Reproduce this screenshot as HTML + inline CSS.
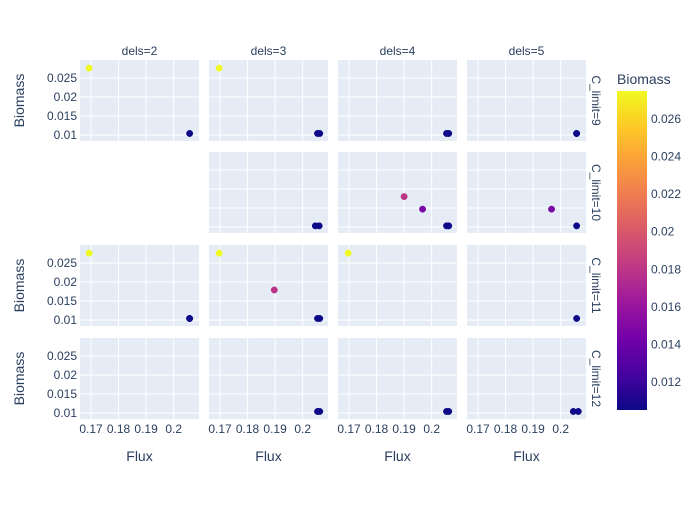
<!DOCTYPE html>
<html><head><meta charset="utf-8"><style>
body{margin:0;background:#fff;font-family:"Liberation Sans",sans-serif}
</style></head><body>
<svg id="c" width="700" height="500" xmlns="http://www.w3.org/2000/svg"></svg>
<script>
const colLabels=["dels=2","dels=3","dels=4","dels=5"];
const rowLabels=["C_limit=9","C_limit=10","C_limit=11","C_limit=12"];
const xTicks=[0.17,0.18,0.19,0.2];
const yTicks=[0.01,0.015,0.02,0.025];
const cbTicks=[0.012,0.014,0.016,0.018,0.02,0.022,0.024,0.026];
// panel data: [row, col, flux, biomass]
const ptRow=[0,0,0,0,0,0,0,0,0, 1,1,1,1,1,1,1,1, 2,2,2,2,2,2,2,2,2, 3,3,3,3,3,3,3];
const ptCol=[0,0,1,1,1,2,2,3,3, 1,1,2,2,2,2,3,3, 0,0,1,1,1,1,2,3, 0,1,1,2,2,3,3];
const ptFlux=[0.1693,0.2058,0.1697,0.2054,0.2062,0.2054,0.2062,0.2058,0.2058, 0.2046,0.2060,0.19,0.1967,0.2054,0.2062,0.1967,0.2058, 0.1693,0.2058,0.1697,0.1897,0.2054,0.2062,0.1697,0.2058, 0.2058,0.2054,0.2062,0.2054,0.2062,0.2046,0.2064];
const ptBio=[0.0276,0.0104,0.0276,0.0104,0.0104,0.0104,0.0104,0.0104,0.0104, 0.0103,0.0103,0.0180,0.0147,0.0103,0.0103,0.0147,0.0103, 0.0276,0.0104,0.0276,0.0179,0.0104,0.0104,0.0276,0.0104, 0.0104,0.0104,0.0104,0.0104,0.0104,0.0104,0.0104];
const colX=[80,209,338,467], pw=119, rowY=[60,152,245,338], ph=81;
const xMin=0.166,xMax=0.2092,yMin=0.00842,yMax=0.02974,cMin=0.0105,cMax=0.0275;
const svg=document.getElementById('c');const NS="http://www.w3.org/2000/svg";
function mk(t,a,p){const e=document.createElementNS(NS,t);for(const k in a)e.setAttribute(k,a[k]);(p||svg).appendChild(e);return e;}
const sx=(c,v)=>colX[c]+(v-xMin)/(xMax-xMin)*pw;
const sy=(r,v)=>rowY[r]+ph-(v-yMin)/(yMax-yMin)*ph;
const plasma=["#0d0887","#46039f","#7201a8","#9c179e","#bd3786","#d8576b","#ed7953","#fb9f3a","#fdca26","#f0f921"];
function col(v){let t=Math.max(0,Math.min(1,(v-cMin)/(cMax-cMin)))*(plasma.length-1);const i=Math.min(Math.floor(t),plasma.length-2),f=t-i;
const a=plasma[i],b=plasma[i+1];const h=(s,o)=>parseInt(s.substr(o,2),16);
return "rgb("+[1,3,5].map(o=>Math.round(h(a,o)+(h(b,o)-h(a,o))*f)).join(",")+")";}
for(let r=0;r<4;r++)for(let c=0;c<4;c++){
 if(r==1&&c==0)continue;
 const g=mk('g',{});
 
 
 mk('rect',{x:colX[c],y:rowY[r],width:pw,height:ph,fill:'#e5ecf6'},g);
 xTicks.forEach(v=>mk('line',{x1:sx(c,v),x2:sx(c,v),y1:rowY[r],y2:rowY[r]+ph,stroke:'#fff','stroke-width':1},g));
 yTicks.forEach(v=>mk('line',{x1:colX[c],x2:colX[c]+pw,y1:sy(r,v),y2:sy(r,v),stroke:'#fff','stroke-width':1},g));
}
[0,2,3].forEach(r=>{yTicks.forEach(v=>{const t=mk('text',{x:77,y:sy(r,v)+4,'text-anchor':'end','font-size':12,fill:'#2a3f5f'});t.textContent=String(v);
 });
 const yt=mk('text',{x:24,y:rowY[r]+ph/2,'text-anchor':'middle','font-size':14,fill:'#2a3f5f',transform:'rotate(-90 24 '+(rowY[r]+ph/2)+')'});yt.textContent='Biomass';
 });
for(let c=0;c<4;c++){
 xTicks.forEach(v=>{const t=mk('text',{x:sx(c,v),y:433,'text-anchor':'middle','font-size':12,fill:'#2a3f5f'});t.textContent=String(v);
 });
 const xt=mk('text',{x:colX[c]+pw/2,y:461,'text-anchor':'middle','font-size':14,fill:'#2a3f5f'});xt.textContent='Flux';
 
 const cl=mk('text',{x:colX[c]+pw/2,y:55,'text-anchor':'middle','font-size':12,fill:'#2a3f5f'});cl.textContent=colLabels[c];
 }
for(let r=0;r<4;r++){const x=592,y=rowY[r]+ph/2;
 const rl=mk('text',{x:x,y:y,'text-anchor':'middle','font-size':12,fill:'#2a3f5f',transform:'rotate(90 '+x+' '+y+')'});rl.textContent=rowLabels[r];
 }
for(let i=0;i<ptFlux.length;i++){
 const p=mk('circle',{cx:sx(ptCol[i],ptFlux[i]),cy:sy(ptRow[i],ptBio[i]),r:3.2,fill:col(ptBio[i]),stroke:col(ptBio[i]),'stroke-width':0.5});
 }
const defs=mk('defs',{});const lg=mk('linearGradient',{id:'pl',x1:0,y1:1,x2:0,y2:0},defs);
plasma.forEach((c,i)=>mk('stop',{offset:i/(plasma.length-1),'stop-color':c},lg));
const cb=mk('rect',{x:617,y:91,width:30,height:319,fill:'url(#pl)'});

const cby=v=>91+319-(v-cMin)/(cMax-cMin)*319;
cbTicks.forEach(v=>{const t=mk('text',{x:651,y:cby(v)+4,'font-size':12,fill:'#2a3f5f'});t.textContent=String(v);
 });
const ct=mk('text',{x:617,y:84,'font-size':14,fill:'#2a3f5f'});ct.textContent='Biomass';

</script>
</body></html>
